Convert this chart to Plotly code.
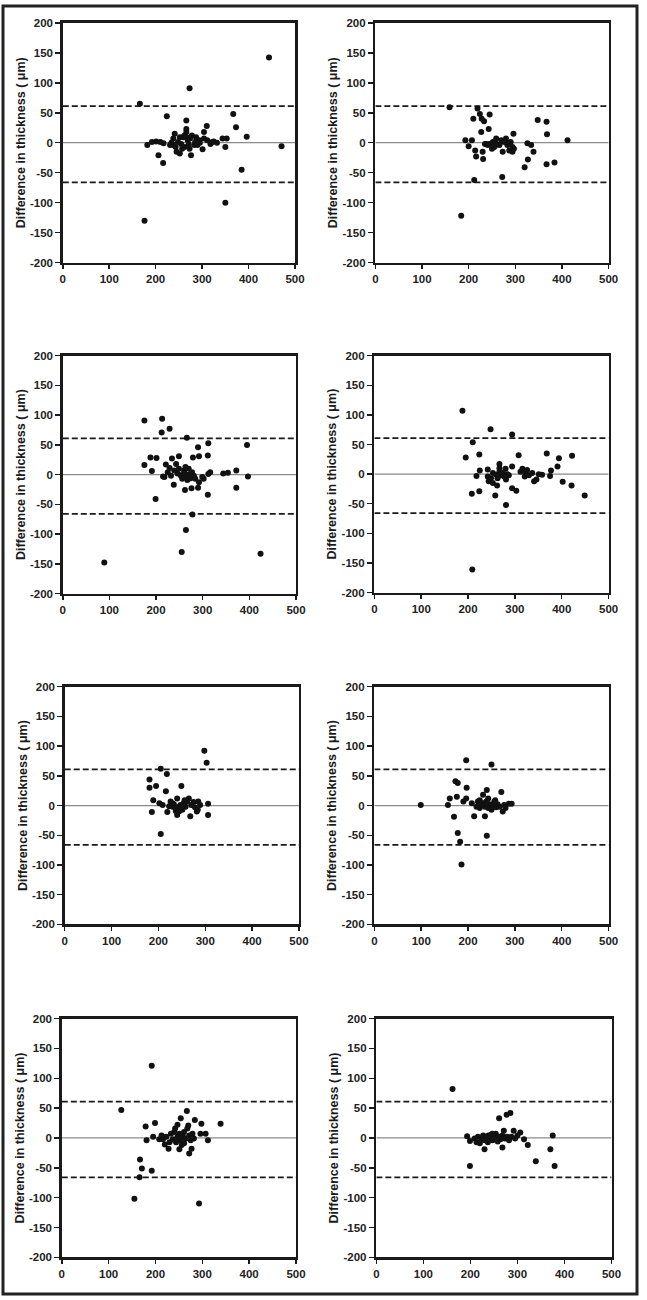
import plotly.graph_objects as go

# ---------------- data ----------------
upper_loa = 61
lower_loa = -66
mean_diff = 0

x_ticks = [0, 100, 200, 300, 400, 500]
x_tick_labels = ["0", "100", "200", "300", "400", "500"]
y_ticks = [200, 150, 100, 50, 0, -50, -100, -150, -200]
y_tick_labels = ["200", "150", "100", "50", "0", "-50", "-100", "-150", "-200"]
y_title = "Difference in thickness ( \u03bcm)"

p1_x = [444, 273, 166, 224, 367, 373, 396, 471, 385, 350, 176, 216, 206, 266, 310, 304,
        182, 192, 201, 210, 217, 231, 234, 238, 241, 245, 248, 252, 255, 259, 262, 266, 269, 273, 276, 278,
        283, 287, 294, 301, 304, 311, 318, 325, 332, 344, 350, 353, 238, 243, 252, 262, 257, 267, 271, 274,
        285, 295, 290, 322, 266]
p1_y = [142, 91, 65, 44, 48, 26, 10, -6, -45, -100, -130, -34, -21, 37, 28, 18,
        -4, 1, 2, 1, -1, -4, 0, 7, 15, -15, 1, -18, -2, 9, -7, 18, 4, -10, -21, 12,
        -4, 9, 4, -11, 7, 4, -2, 2, 0, 7, -7, 7, -4, -7, 9, 12, -10, 9, -3, 7,
        1, 0, -4, 1, 23]

p2_x = [159, 219, 224, 245, 210, 228, 233, 243, 227, 193, 207, 200, 214, 216, 231, 230, 238, 296, 326, 334,
        339, 327, 320, 272, 212, 184, 348, 367, 368, 367, 384, 412,
        245, 252, 255, 259, 262, 270, 273, 276, 280, 283, 287, 290, 294, 297, 266, 248, 241, 235, 257, 250,
        287, 294]
p2_y = [59, 57, 48, 47, 40, 40, 36, 23, 18, 4, 4, -6, -13, -23, -27, -15, -2, 15, -1, -4,
        -15, -28, -41, -57, -62, -122, 38, 35, 14, -36, -33, 4,
        -2, 1, -7, 7, -3, 4, -15, 1, 7, -4, -13, 1, -15, -10, -4, -3, -4, -2, 0, -10,
        0, -7]

p3_x = [175, 213, 212, 229, 266, 312, 290, 395, 188, 201, 175, 191, 234, 249, 279, 292, 311, 221, 243, 215,
        238, 199, 262, 276, 290, 311, 292, 278, 264, 255, 89, 424, 372, 372, 397, 344, 354, 316, 312, 302,
        299, 253, 256, 260, 263, 267, 270, 274, 277, 281, 249, 246, 239, 225, 229, 263, 260, 270, 284, 254,
        265, 218, 232]
p3_y = [91, 94, 71, 77, 62, 53, 46, 50, 29, 28, 16, 6, 27, 31, 29, 31, 32, 17, 18, -3,
        -17, -41, -26, -23, -22, -34, -13, -67, -93, -130, -148, -133, 7, -22, -3, 2, 3, 4, 1, -7,
        -4, -1, -7, 2, -4, -9, 0, -6, 4, -2, 10, 2, 7, 4, 11, 13, 7, 10, -7, -2,
        0, -4, -2]

p4_x = [188, 248, 294, 210, 195, 224, 308, 368, 394, 422, 391, 377, 375, 402, 421, 449, 208, 224, 258, 281,
        294, 303, 262, 209, 294, 267, 218, 225, 242, 244, 253, 260, 263, 267, 270, 274, 277, 281, 284, 287,
        253, 267, 280, 242, 249, 316, 323, 326, 321, 337, 341, 346, 351, 358, 330, 312]
p4_y = [107, 76, 67, 54, 28, 33, 32, 35, 27, 31, 13, 6, -3, -13, -19, -36, -33, -29, -36, -52,
        -24, -28, -19, -161, 13, 17, -3, 6, 8, -12, -15, -1, -7, 4, -2, 2, -4, -9, 0, -2,
        2, 10, 9, -4, -7, 9, 4, 7, -4, 2, -12, -9, 0, -1, -2, 4]

p5_x = [298, 303, 205, 218, 181, 181, 195, 249, 216, 189, 186, 205, 306, 306, 268, 219, 202, 209,
        226, 230, 233, 237, 240, 244, 247, 251, 254, 258, 261, 265, 270, 275, 278, 282, 285, 289,
        240, 237, 244, 247, 256, 230, 223, 284]
p5_y = [92, 72, 62, 53, 44, 30, 33, 33, 24, 9, -11, -48, -16, 3, -18, -11, 4, 1,
        7, -2, 2, -4, 12, -2, 1, -7, 4, -2, 7, 12, 1, 6, -3, -10, 7, 1,
        -16, -9, -10, -4, 9, 4, -1, -7]

p6_x = [99, 157, 161, 173, 178, 176, 170, 178, 183, 186, 196, 250, 197, 190, 196, 213, 236, 240, 240, 232,
        271, 208, 218, 221, 225, 228, 232, 236, 239, 243, 246, 250, 253, 256, 260, 263, 267, 274, 277, 280,
        287, 293, 225, 243, 258]
p6_y = [1, 1, 12, 41, 38, 15, -19, -46, -61, -99, 76, 69, 30, 7, 12, -18, -18, -51, 26, 18,
        23, 4, -2, 7, -4, 1, 4, -2, 7, -4, 2, -7, 1, 7, -3, 2, -2, -10, 1, -4,
        3, 3, 9, 12, 9]

p7_x = [192, 127, 179, 181, 199, 195, 167, 171, 166, 192, 155, 293, 339, 298, 267, 284, 254, 247, 312, 296,
        307, 272, 277, 251, 228, 220, 208, 213, 223, 230, 233, 237, 240, 244, 247, 251, 254, 258, 261, 265,
        268, 272, 275, 279, 282, 261, 242, 270, 216, 256, 249]
p7_y = [121, 47, 19, -4, 25, 2, -36, -51, -66, -55, -102, -110, 24, 24, 45, 30, 33, 22, -4, 7,
        7, -26, -18, -19, -18, -11, -2, 4, 2, -7, 7, -2, 10, -7, 2, 7, -4, 4, 10, -1,
        16, 4, -4, 7, -1, -9, 16, 21, -2, -12, -2]

p8_x = [162, 261, 277, 285, 193, 199, 199, 230, 268, 322, 339, 370, 375, 379, 292, 306, 314, 271,
        209, 213, 216, 220, 223, 227, 230, 234, 237, 240, 244, 247, 251, 254, 258, 261, 264, 268, 273, 278,
        282, 287, 295, 300, 247, 238]
p8_y = [82, 33, 39, 42, 3, -5, -47, -19, -16, -12, -39, -19, 4, -47, 12, 9, -2, 12,
        -1, -7, 2, -9, -1, 4, -4, 2, -7, -1, 6, -4, 2, 7, -6, 2, -2, 4, -1, 2,
        -4, 2, -1, 4, 7, 4]

panels_x = [p1_x, p2_x, p3_x, p4_x, p5_x, p6_x, p7_x, p8_x]
panels_y = [p1_y, p2_y, p3_y, p4_y, p5_y, p6_y, p7_y, p8_y]

# ---------------- layout geometry (pixels in a 647 x 1300 page) ----------------
W, H = 647, 1300
boxes = [  # (left, right, top, bottom)
    (61, 298, 17, 259), (380, 618, 17, 259),
    (61, 299, 353, 593), (379, 618, 353, 592),
    (63, 302, 687, 927), (379, 618, 687, 927),
    (60, 299, 1022, 1263), (381, 621, 1022, 1263),
]

FONT = "Liberation Sans, Arial, sans-serif"
fig = go.Figure()
tick_font = dict(family=FONT, size=11.5, color="#222222", weight="bold")
layout = {}
for i, (xs, ys) in enumerate(zip(panels_x, panels_y)):
    n = i + 1
    xa = "x" if n == 1 else f"x{n}"
    ya = "y" if n == 1 else f"y{n}"
    fig.add_trace(go.Scatter(x=[x_ticks[0], x_ticks[-1]], y=[mean_diff, mean_diff], mode="lines",
                             line=dict(color="#8a8a8a", width=1.2), xaxis=xa, yaxis=ya,
                             showlegend=False, hoverinfo="skip"))
    for lv in (upper_loa, lower_loa):
        fig.add_trace(go.Scatter(x=[x_ticks[0], x_ticks[-1]], y=[lv, lv], mode="lines",
                                 line=dict(color="#1a1a1a", width=1.8, dash="6px,3px"),
                                 xaxis=xa, yaxis=ya, showlegend=False, hoverinfo="skip"))
    fig.add_trace(go.Scatter(x=xs, y=ys, mode="markers",
                             marker=dict(color="#111111", size=6, line=dict(width=0)),
                             xaxis=xa, yaxis=ya, showlegend=False))
    l, r, t, b = boxes[i]
    layout[f"xaxis{n}" if n > 1 else "xaxis"] = dict(
        domain=[l / W, r / W], anchor=ya, range=[0, 500], tickvals=x_ticks, ticktext=x_tick_labels,
        showline=True, linecolor="#1a1a1a", linewidth=2.5, mirror=True,
        ticks="outside", ticklen=4, tickwidth=1.5, tickcolor="#1a1a1a",
        showgrid=False, zeroline=False, tickfont=tick_font, fixedrange=True)
    layout[f"yaxis{n}" if n > 1 else "yaxis"] = dict(
        domain=[1 - b / H, 1 - t / H], anchor=xa, range=[-200, 200], tickvals=y_ticks, ticktext=y_tick_labels,
        showline=True, linecolor="#1a1a1a", linewidth=2.5, mirror=True,
        ticks="outside", ticklen=5, tickwidth=1.5, tickcolor="#1a1a1a",
        showgrid=False, zeroline=False, tickfont=tick_font, fixedrange=True,
        title=dict(text=y_title, standoff=2,
                   font=dict(family=FONT, size=12.5, color="#1a1a1a", weight="bold")))

fig.update_layout(**layout)
fig.update_layout(
    width=W, height=H, autosize=False, margin=dict(l=0, r=0, t=0, b=0),
    paper_bgcolor="white", plot_bgcolor="white", showlegend=False,
    shapes=[dict(type="rect", xref="paper", yref="paper", x0=0, x1=1, y0=0, y1=1,
                 line=dict(color="#222222", width=3), fillcolor="rgba(0,0,0,0)", layer="above")],
)

fig.write_html("out.html",
               config={"responsive": False, "displayModeBar": False, "staticPlot": True},
               post_script="document.body.style.margin='0';document.body.style.overflow='hidden';")
